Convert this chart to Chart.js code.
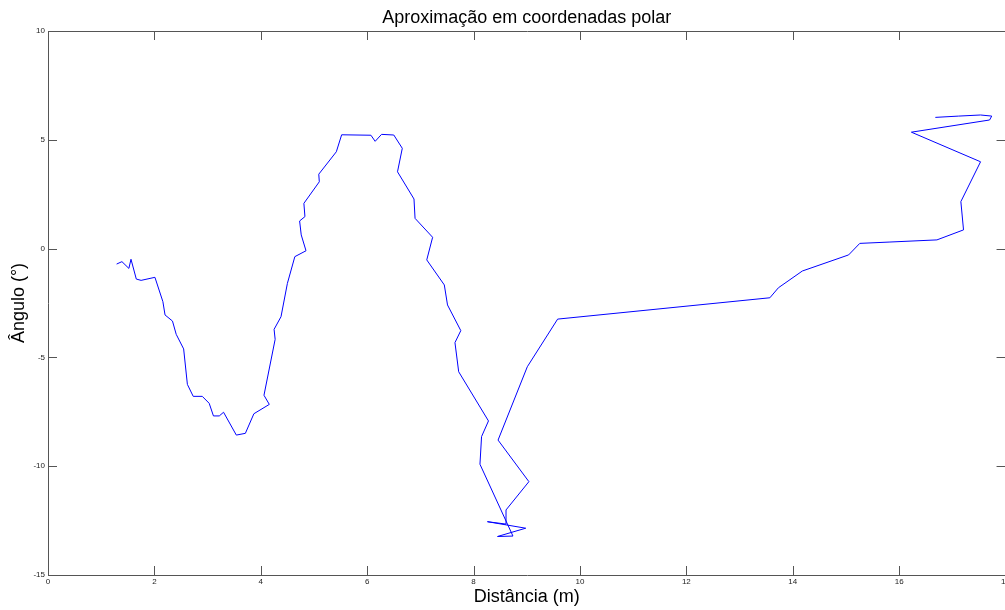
<!DOCTYPE html>
<html>
<head>
<meta charset="utf-8">
<script src="https://cdn.jsdelivr.net/npm/chart.js@4/dist/chart.umd.min.js"></script>
<style>
  html, body { margin: 0; padding: 0; background: #fff; overflow: hidden; }
  #wrap { width: 1012px; height: 610px; }
</style>
</head>
<body>
<div id="wrap"><canvas id="grafico" width="1012" height="610"></canvas></div>
<script>
// dados (distância em m, ângulo em graus)
const distancia = [
  1.29, 1.39, 1.52, 1.56, 1.66, 1.75, 2.01, 2.16, 2.20, 2.34,
  2.41, 2.55, 2.62, 2.73, 2.90, 3.03, 3.11, 3.22, 3.30, 3.54,
  3.71, 3.87, 4.16, 4.06, 4.27, 4.25, 4.38, 4.50, 4.64, 4.85,
  4.76, 4.73, 4.83, 4.81, 5.10, 5.09, 5.42, 5.52, 5.79, 6.07,
  6.15, 6.27, 6.50, 6.66, 6.57, 6.88, 6.90, 7.23, 7.12, 7.45,
  7.51, 7.76, 7.65, 7.72, 8.28, 8.15, 8.12, 8.74, 8.45, 8.98,
  8.26, 8.61, 8.61, 9.04, 8.46, 9.01, 9.58, 13.57, 13.73, 14.18,
  15.05, 15.26, 15.81, 16.71, 17.21, 17.16, 17.53, 16.23, 17.70, 17.74,
  17.53, 17.12, 16.68
];
const angulo = [
  -0.71, -0.60, -0.91, -0.49, -1.40, -1.46, -1.32, -2.44, -3.05, -3.33,
  -3.94, -4.61, -6.24, -6.79, -6.79, -7.11, -7.69, -7.69, -7.52, -8.57,
  -8.49, -7.59, -7.16, -6.74, -4.17, -3.71, -3.13, -1.60, -0.37, -0.10,
  0.63, 1.27, 1.47, 2.08, 3.07, 3.42, 4.45, 5.23, 5.22, 5.21,
  4.93, 5.25, 5.22, 4.61, 3.53, 2.28, 1.39, 0.52, -0.52, -1.67,
  -2.59, -3.77, -4.32, -5.66, -7.92, -8.64, -9.91, -13.21, -13.23, -12.85,
  -12.55, -12.66, -12.01, -10.71, -8.80, -5.43, -3.24, -2.26, -1.80, -1.03,
  -0.29, 0.24, 0.30, 0.40, 0.86, 2.16, 3.99, 5.35, 5.91, 6.09,
  6.14, 6.09, 6.03
];
const xTicks = [0, 2, 4, 6, 8, 10, 12, 14, 16, 18];
const yTicks = [-15, -10, -5, 0, 5, 10];

const FONTE = "'Liberation Sans', Arial, Helvetica, sans-serif";
const COR_EIXO = "#555";

// caixa com marcas para dentro (estilo MATLAB)
const caixaPlugin = {
  id: "caixa",
  afterDraw(chart) {
    const { ctx, chartArea: a, scales } = chart;
    const tl = 9;
    ctx.save();
    ctx.strokeStyle = COR_EIXO;
    ctx.lineWidth = 1;
    ctx.beginPath();
    ctx.rect(Math.round(a.left) + 0.5, Math.round(a.top) + 0.5,
             Math.round(a.right - a.left), Math.round(a.bottom - a.top));
    scales.x.ticks.forEach(t => {
      const px = Math.round(scales.x.getPixelForValue(t.value)) + 0.5;
      ctx.moveTo(px, a.bottom); ctx.lineTo(px, a.bottom - tl);
      ctx.moveTo(px, a.top); ctx.lineTo(px, a.top + tl);
    });
    scales.y.ticks.forEach(t => {
      const py = Math.round(scales.y.getPixelForValue(t.value)) + 0.5;
      ctx.moveTo(a.left, py); ctx.lineTo(a.left + tl, py);
      ctx.moveTo(a.right, py); ctx.lineTo(a.right - tl, py);
    });
    ctx.stroke();
    ctx.restore();
  }
};

const pontos = distancia.map((d, i) => ({ x: d, y: angulo[i] }));

new Chart(document.getElementById("grafico"), {
  type: "scatter",
  data: {
    datasets: [{
      data: pontos,
      showLine: true,
      borderColor: "#0000ff",
      borderWidth: 1,
      pointRadius: 0,
      tension: 0,
      fill: false
    }]
  },
  options: {
    responsive: false,
    animation: false,
    devicePixelRatio: 1,
    layout: { padding: { left: 0, right: 5, top: 0, bottom: 0 } },
    plugins: {
      legend: { display: false },
      tooltip: { enabled: false },
      title: { display: false }
    },
    scales: {
      // eixo de cima só para o título (fica centrado na área do gráfico)
      topo: {
        type: "linear",
        position: "top",
        min: 0, max: 18,
        afterFit: s => { s.height = 31; },
        grid: { display: false, drawTicks: false },
        border: { display: false },
        ticks: { display: false },
        title: {
          display: true, text: "Aproximação em coordenadas polar", color: "#000",
          font: { family: FONTE, size: 18, lineHeight: 1.2 },
          padding: { top: 7.2, bottom: 0 }
        }
      },
      x: {
        type: "linear",
        position: "bottom",
        min: 0, max: 18,
        afterBuildTicks: s => { s.ticks = xTicks.map(v => ({ value: v })); },
        afterFit: s => { s.height = 35; },
        grid: { display: false, drawTicks: false },
        border: { display: false },
        ticks: {
          autoSkip: false, maxRotation: 0, padding: 2,
          color: "#222", font: { family: FONTE, size: 8 }
        },
        title: {
          display: true, text: "Distância (m)", color: "#000",
          font: { family: FONTE, size: 18, lineHeight: 1.2 },
          padding: { top: 0, bottom: 2.2 }
        }
      },
      y: {
        type: "linear",
        min: -15, max: 10,
        afterBuildTicks: s => { s.ticks = yTicks.map(v => ({ value: v })); },
        afterFit: s => { s.width = 48; },
        grid: { display: false, drawTicks: false },
        border: { display: false },
        ticks: {
          autoSkip: false, padding: 3,
          color: "#222", font: { family: FONTE, size: 8 }
        },
        title: {
          display: true, text: "Ângulo (°)", color: "#000",
          font: { family: FONTE, size: 18, lineHeight: 1.2 },
          padding: { top: 8.3, bottom: 0 }
        }
      }
    }
  },
  plugins: [caixaPlugin]
});
</script>
</body>
</html>
